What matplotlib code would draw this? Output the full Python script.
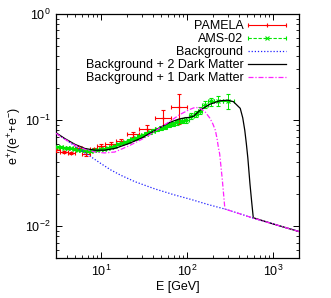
import numpy as np
import matplotlib
matplotlib.use("Agg")
import matplotlib.pyplot as plt
from matplotlib.lines import Line2D
from matplotlib.legend_handler import HandlerBase
from matplotlib.ticker import LogLocator, NullFormatter

plt.rcParams['font.family'] = ['Liberation Sans', 'DejaVu Sans']
plt.rcParams['mathtext.fontset'] = 'custom'
plt.rcParams['mathtext.rm'] = 'Liberation Sans'
plt.rcParams['mathtext.it'] = 'Liberation Sans:italic'
plt.rcParams['mathtext.bf'] = 'Liberation Sans:bold'

# ---------------- data ----------------
# Background
E_bg = [3, 4, 5, 6.5, 8, 10, 13, 17, 25, 42, 70, 113, 180, 276, 590, 1000, 2000]
y_bg = [0.0754, 0.0643, 0.0569, 0.049, 0.044, 0.0389, 0.0339, 0.0302, 0.0262,
        0.0225, 0.0198, 0.0178, 0.0159, 0.0145, 0.0119, 0.0105, 0.0089]

# Background + 2 Dark Matter
E_dm2 = [3, 3.8, 5, 6.5, 8.5, 11, 14.5, 21, 30, 37, 50, 63, 80, 95, 108, 120,
         142, 185, 240, 300, 347, 416, 445, 470, 490, 510, 540, 565, 590, 1000, 2000]
y_dm2 = [0.076, 0.067, 0.059, 0.054, 0.052, 0.052, 0.054, 0.060, 0.068, 0.075,
         0.086, 0.095, 0.102, 0.105, 0.106, 0.109, 0.124, 0.141, 0.152, 0.154,
         0.149, 0.129, 0.105, 0.080, 0.060, 0.044, 0.025, 0.017, 0.012, 0.0105, 0.0089]

# Background + 1 Dark Matter
E_dm1 = [3, 3.8, 5, 6.5, 8.5, 11, 14.5, 21, 30, 37, 50, 63, 83, 108, 125, 142,
         162, 185, 200, 214, 225, 232, 240, 258, 276, 590, 1000, 2000]
y_dm1 = [0.075, 0.066, 0.058, 0.053, 0.050, 0.049, 0.050, 0.057, 0.066, 0.073,
         0.086, 0.097, 0.113, 0.126, 0.132, 0.129, 0.120, 0.104, 0.092, 0.080,
         0.065, 0.055, 0.048, 0.027, 0.0145, 0.0119, 0.0105, 0.0089]

# PAMELA
pam_lo = [2.7, 3.3, 4.1, 5.0, 6.1, 7.4, 9.1, 11.2, 15.0, 20.0, 28.0, 42.0, 65.0]
pam_hi = [3.3, 4.1, 5.0, 6.1, 7.4, 9.1, 11.2, 15.0, 20.0, 28.0, 42.0, 65.0, 100.0]
pam_val = [0.052, 0.050, 0.049, 0.055, 0.048, 0.053, 0.057, 0.059, 0.063,
           0.074, 0.083, 0.105, 0.134]
pam_err = [0.0015, 0.0015, 0.0015, 0.0017, 0.0017, 0.002, 0.0022, 0.0025,
           0.003, 0.004, 0.006, 0.02, 0.042]

# AMS-02
ams_edges = [3.00, 3.29, 3.60, 3.94, 4.31, 4.71, 5.15, 5.62, 6.13, 6.69, 7.30,
             7.97, 8.70, 9.50, 10.4, 11.4, 12.5, 13.7, 15.1, 16.6, 18.2, 20.0,
             22.0, 24.2, 26.5, 29.1, 31.9, 35.1, 38.6, 42.6, 47.1, 52.3, 58.1,
             64.9, 72.8, 82.0, 92.8, 105.0, 120.0, 135.0, 150.0, 175.0, 206.0,
             260.0, 350.0]
ams_val = [0.0562, 0.0556, 0.0550, 0.0545, 0.0540, 0.0532, 0.0527, 0.0521,
           0.0517, 0.0514, 0.0515, 0.0518, 0.0522, 0.0529, 0.0536, 0.0548,
           0.0560, 0.0574, 0.0590, 0.0606, 0.0624, 0.0641, 0.0660, 0.0680,
           0.0702, 0.0722, 0.0746, 0.0770, 0.0792, 0.0815, 0.0842, 0.0866,
           0.0900, 0.0925, 0.0955, 0.0990, 0.1005, 0.1090, 0.1140, 0.1230,
           0.1400, 0.1500, 0.1520, 0.1520]
ams_err = [0.0010, 0.0010, 0.0010, 0.0010, 0.0010, 0.0010, 0.0010, 0.0010,
           0.0010, 0.0010, 0.0010, 0.0010, 0.0011, 0.0011, 0.0012, 0.0012,
           0.0013, 0.0013, 0.0014, 0.0015, 0.0016, 0.0017, 0.0018, 0.0019,
           0.0021, 0.0022, 0.0024, 0.0026, 0.0028, 0.0030, 0.0033, 0.0036,
           0.0040, 0.0044, 0.0048, 0.0053, 0.0060, 0.0068, 0.0080, 0.0095,
           0.0110, 0.0130, 0.0160, 0.0240]

labels = ["PAMELA", "AMS-02", "Background", "Background + 2 Dark Matter",
          "Background + 1 Dark Matter"]

# ---------------- figure ----------------
RED = '#ff0000'
GREEN = '#00e600'
BLUE = '#2020ff'
MAG = '#ff20ff'
BLACK = '#000000'
FS = 9

fig = plt.figure(figsize=(3.31, 2.98), dpi=100)
ax = fig.add_axes([0.169, 0.134, 0.734, 0.819])
ax.set_xscale('log')
ax.set_yscale('log')
ax.set_xlim(3, 2000)
ax.set_ylim(0.005, 1)

pam_lo_a = np.array(pam_lo); pam_hi_a = np.array(pam_hi)
pam_E = np.sqrt(pam_lo_a * pam_hi_a)
ax.errorbar(pam_E, pam_val, yerr=pam_err,
            xerr=[pam_E - pam_lo_a, pam_hi_a - pam_E],
            fmt='+', color=RED, ms=3, mew=0.8, elinewidth=0.8, capsize=1.5,
            capthick=0.8, zorder=3)

ed = np.array(ams_edges)
ams_E = np.sqrt(ed[:-1] * ed[1:])
ax.errorbar(ams_E, ams_val, yerr=ams_err,
            xerr=[ams_E - ed[:-1], ed[1:] - ams_E],
            fmt='x', color=GREEN, ms=2.5, mew=0.8, elinewidth=0.7, capsize=1.3,
            capthick=0.7, zorder=3)

ax.plot(E_bg, y_bg, color=BLUE, lw=0.9, ls=(0, (1, 1.5)), zorder=4)
ax.plot(E_dm2, y_dm2, color=BLACK, lw=0.9, zorder=5)
ax.plot(E_dm1, y_dm1, color=MAG, lw=0.9, ls=(0, (4, 1.5, 1, 1.5)), zorder=6)

# ticks
ax.tick_params(which='both', direction='in', top=True, right=True,
               labelsize=FS, pad=4)
ax.tick_params(which='major', length=4, width=0.7)
ax.tick_params(which='minor', length=2, width=0.6)
ax.xaxis.set_major_locator(LogLocator(base=10, numticks=10))
ax.xaxis.set_minor_locator(LogLocator(base=10, subs=np.arange(2, 10), numticks=20))
ax.yaxis.set_major_locator(LogLocator(base=10, numticks=10))
ax.yaxis.set_minor_locator(LogLocator(base=10, subs=np.arange(2, 10), numticks=20))
ax.xaxis.set_minor_formatter(NullFormatter())
ax.yaxis.set_minor_formatter(NullFormatter())
for s in ax.spines.values():
    s.set_linewidth(0.9)

ax.set_xlabel('E [GeV]', fontsize=FS)
ax.xaxis.set_label_coords(0.5, -0.095)
ax.set_ylabel(r'e$^{+}$/(e$^{+}$+e$^{-}$)', fontsize=FS)
ax.yaxis.set_label_coords(-0.13, 0.5)

# legend (gnuplot style: text, then sample with end caps)
class HandlerGP(HandlerBase):
    def __init__(self, color, ls, marker, ms):
        super().__init__()
        self.color = color; self.ls = ls; self.marker = marker; self.ms = ms

    def create_artists(self, legend, orig_handle, xdescent, ydescent, width,
                       height, fontsize, trans):
        y = height / 2 - ydescent
        x0 = -xdescent; x1 = x0 + width
        line = Line2D([x0, x1], [y, y], color=self.color, ls=self.ls, lw=0.8)
        caps = Line2D([x0, x1], [y, y], ls='none', marker='|', ms=3.5,
                      mew=0.8, color=self.color)
        mk = Line2D([(x0 + x1) / 2], [y], ls='none', marker=self.marker,
                    ms=self.ms, mew=0.8, color=self.color)
        for a in (line, caps, mk):
            a.set_transform(trans)
        return [line, caps, mk]

p_pam = Line2D([], [], color=RED)
p_ams = Line2D([], [], color=GREEN)
p_bg = Line2D([], [], color=BLUE, lw=0.9, ls=(0, (1, 1.5)))
p_dm2 = Line2D([], [], color=BLACK, lw=0.9)
p_dm1 = Line2D([], [], color=MAG, lw=0.9, ls=(0, (4, 1.5, 1, 1.5)))

leg = ax.legend([p_pam, p_ams, p_bg, p_dm2, p_dm1], labels,
                handler_map={p_pam: HandlerGP(RED, '-', '+', 3),
                             p_ams: HandlerGP(GREEN, (0, (3, 1.5)), 'x', 2.5)},
                loc='upper right', bbox_to_anchor=(0.9465, 0.975),
                frameon=False, markerfirst=False, fontsize=FS,
                handlelength=3.0, handletextpad=0.4, labelspacing=0.08,
                borderpad=0, borderaxespad=0)

fig.savefig('out.png', dpi=100)
